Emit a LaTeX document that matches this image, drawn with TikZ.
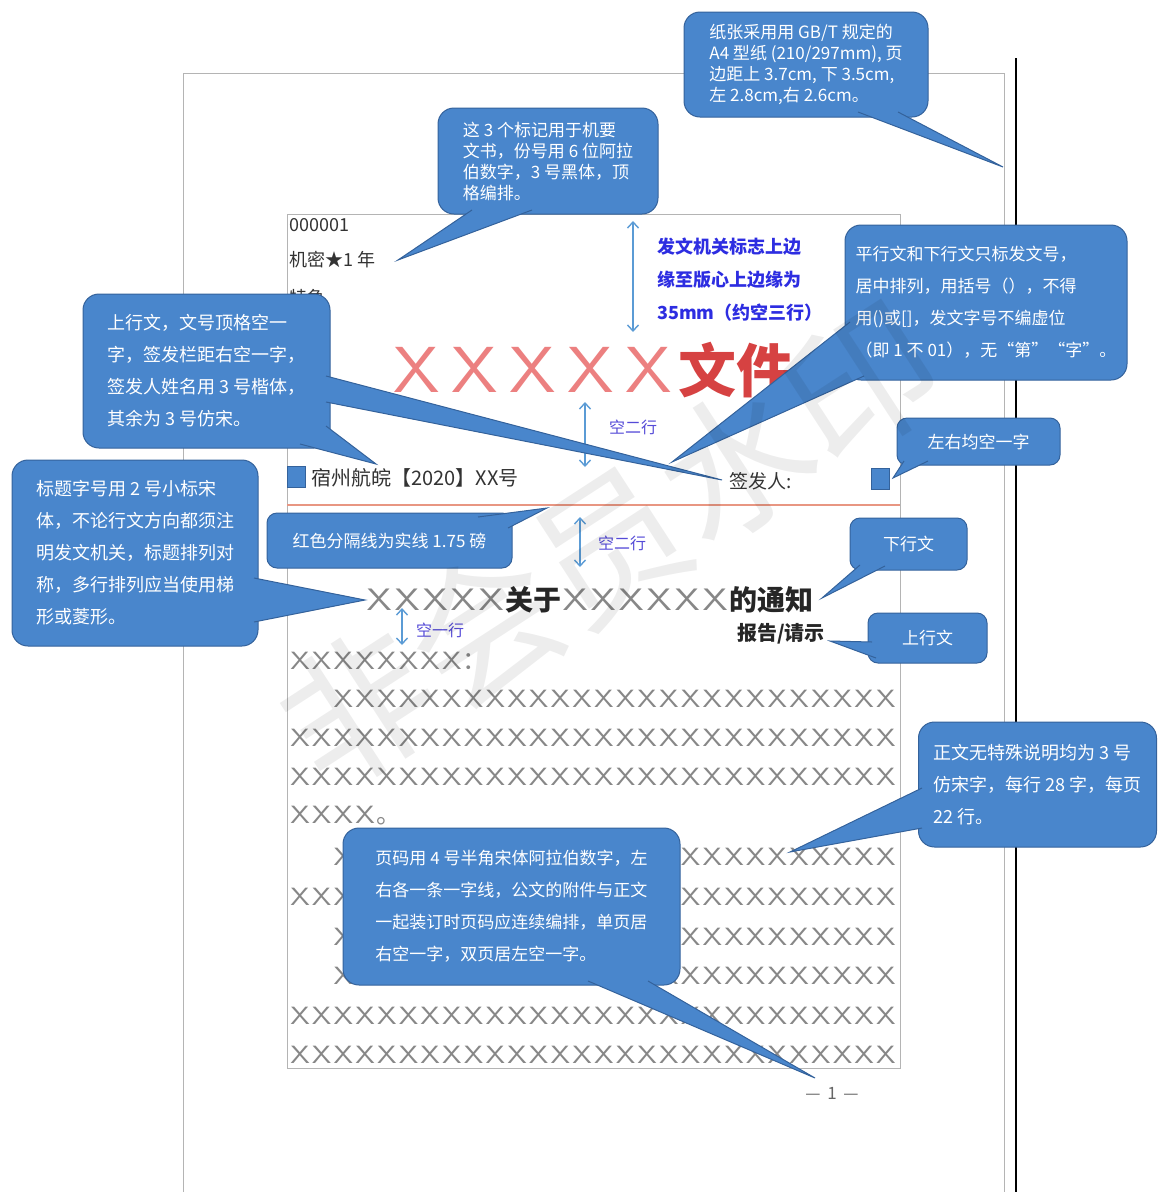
\documentclass[tikz,border=0pt]{standalone}
\usepackage{fontspec}
\usepackage{graphicx}
\newfontfamily\cjk{Noto Sans CJK SC}
\usetikzlibrary{arrows.meta}
\definecolor{bfill}{RGB}{73,134,204}
\definecolor{bline}{RGB}{52,98,155}
\definecolor{ablue}{RGB}{91,155,213}
\definecolor{lblue}{RGB}{85,75,215}
\definecolor{tblue}{RGB}{45,45,225}
\definecolor{xred}{RGB}{236,128,128}
\definecolor{wred}{RGB}{214,66,66}
\definecolor{xgray}{RGB}{135,135,135}
\definecolor{rline}{RGB}{232,150,130}
\definecolor{pgray}{RGB}{180,180,180}
\newcommand\xc{\makebox[21.7pt]{\scalebox{1.25}[1]{X}}}
\newcommand\xt{\makebox[28pt]{\scalebox{1.3}[1]{X}}}
\newcommand\xr{\makebox[58pt]{\scalebox{1.2}[1.05]{X}}}
\ExplSyntaxOn
\NewDocumentCommand\xrow{m}{\prg_replicate:nn{#1}{\xc}}
\NewDocumentCommand\xtrow{m}{\prg_replicate:nn{#1}{\xt}}
\NewDocumentCommand\xrrow{m}{\prg_replicate:nn{#1}{\xr}}
\ExplSyntaxOff
\tikzset{
  bub/.style={rounded corners=16pt, fill=bfill, draw=bline, line width=1pt, text=white, align=left, inner sep=0pt},
  tailfill/.style={fill=bfill},
  tailline/.style={draw=bline, line width=1pt, line join=miter},
  gap/.style={draw=ablue, line width=1.4pt, {Straight Barb[length=6pt,width=11pt]}-{Straight Barb[length=6pt,width=11pt]}},
  gaplabel/.style={text=lblue, inner sep=0pt, anchor=west, font=\cjk\fontsize{16}{16}\selectfont},
  xline/.style={anchor=west, inner sep=0pt, text=xgray, font=\sffamily\fontsize{25}{25}\selectfont},
  doc/.style={anchor=west, inner sep=0pt, text=black!80},
  sq/.style={fill=bfill, draw=bline, line width=0.8pt, minimum width=18pt, minimum height=21pt, inner sep=0pt}
}
\begin{document}
\begin{tikzpicture}[x=1pt,y=-1pt]
\useasboundingbox (0,0) rectangle (1159,1192);
% page
\draw[pgray, line width=0.8pt] (183,1192) -- (183,73) -- (1004,73) -- (1004,1192);
\draw[black, line width=1.6pt] (1016,58) -- (1016,1192);
\draw[pgray, line width=0.8pt] (287,214) rectangle (900,1068);
% header marks
\node[doc, font=\cjk\fontsize{18}{18}\selectfont] (fh) at (289,225) {000001};
\node[doc, font=\cjk\fontsize{18}{18}\selectfont] (mj) at (289,260) {机密★1 年};
\node[doc, font=\cjk\fontsize{18}{18}\selectfont] (tj) at (289,298) {特急};
% gap 35mm
\coordinate (a1t) at (633,221);
\coordinate (a1b) at (633,332);
\draw[gap] (a1t) -- (a1b);
\node[anchor=west, inner sep=0pt, text=tblue, align=left, font=\cjk\bfseries\fontsize{18}{33}\selectfont] (note35) at (657,280) {发文机关标志上边\\缘至版心上边缘为\\35mm（约空三行）};
% red heading
\node[anchor=west, inner sep=0pt, text=xred, font=\sffamily\fontsize{62}{62}\selectfont] (hd) at (388,370) {\xrrow{5}{\cjk\bfseries\color{wred}\fontsize{58}{58}\selectfont 文件}};
% gap 2 lines
\coordinate (a2t) at (585,402);
\coordinate (a2b) at (585,467);
\draw[gap] (a2t) -- (a2b);
\node[gaplabel] (g2a) at (609,427) {空二行};
% doc number line
\node[sq] (sq1) at (296,477) {};
\node[doc, font=\cjk\fontsize{20}{20}\selectfont] (wh) at (311,478) {宿州航皖【2020】XX号};
\node[doc, font=\cjk\fontsize{19}{19}\selectfont] (qf) at (729,481) {签发人:};
\node[sq] (sq2) at (880,479) {};
\coordinate (rl1) at (287,505);
\coordinate (rl2) at (900,505);
\draw[rline, line width=2pt] (rl1) -- (rl2);
% gap 2 lines
\coordinate (a3t) at (580,517);
\coordinate (a3b) at (580,567);
\draw[gap] (a3t) -- (a3b);
\node[gaplabel] (g2b) at (598,543) {空二行};
% title
\node[anchor=west, inner sep=0pt, text=xgray, font=\sffamily\fontsize{31}{31}\selectfont] (ti) at (365,600) {\xtrow{5}{\cjk\bfseries\color{black!85}\fontsize{28}{28}\selectfont 关于}\xtrow{6}{\cjk\bfseries\color{black!85}\fontsize{28}{28}\selectfont 的通知}};
\coordinate (a4t) at (402,608);
\coordinate (a4b) at (402,645);
\draw[gap] (a4t) -- (a4b);
\node[gaplabel] (g1) at (416,630) {空一行};
\node[doc, text=black!85, font=\cjk\bfseries\fontsize{20}{20}\selectfont] (bg) at (737,634) {报告/请示};
% body
\node[xline] (r1) at (289,661) {\xrow{8}{\cjk ：}};
\node[xline] (r2) at (332.4,699) {\xrow{26}};
\node[xline] (r3) at (289,738) {\xrow{28}};
\node[xline] (r4) at (289,777) {\xrow{28}};
\node[xline] (r5) at (289,816) {\xrow{4}{\cjk 。}};
\node[xline] (r6) at (332.4,857) {\xrow{26}};
\node[xline] (r7) at (289,897) {\xrow{28}};
\node[xline] (r8) at (332.4,937) {\xrow{26}};
\node[xline] (r9) at (332.4,976) {\xrow{26}};
\node[xline] (r10) at (289,1016) {\xrow{28}};
\node[xline] (r11) at (289,1055) {\xrow{28}};
\node[text=black!60, inner sep=0pt, font=\cjk\fontsize{17}{17}\selectfont] (pn) at (832,1093) {— \,1\, —};
% ---------- callouts ----------
% B1
\node[bub, minimum width=244pt, minimum height=105pt, font=\cjk\fontsize{17}{21}\selectfont] (b1) at (806,64.5)
 {纸张采用用 GB/T 规定的\\A4 型纸 (210/297mm), 页\\边距上 3.7cm, 下 3.5cm,\\左 2.8cm,右 2.6cm。};
\coordinate (t1) at (1003,167);
\fill[tailfill] (858,112) -- (t1) -- (898,112) -- cycle;
\draw[tailline] (858,112) -- (t1) -- (898,112);
% B2
\node[bub, minimum width=220pt, minimum height=106pt, font=\cjk\fontsize{17}{21}\selectfont] (b2) at (548,161)
 {这 3 个标记用于机要\\文书，份号用 6 位阿拉\\伯数字，3 号黑体，顶\\格编排。};
\coordinate (t2) at (398,260);
\fill[tailfill] (472,210) -- (t2) -- (532,210) -- cycle;
\draw[tailline] (472,210) -- (t2) -- (532,210);
% B3
\node[bub, minimum width=282pt, minimum height=155pt, font=\cjk\fontsize{17}{32}\selectfont] (b3) at (986,302.5)
 {平行文和下行文只标发文号，\\居中排列，用括号（），不得\\用()或[]，发文字号不编虚位\\（即 1 不 01），无“第”“字”。};
\coordinate (t3) at (672,462);
\fill[tailfill] (850,322) -- (t3) -- (864,376) -- cycle;
\draw[tailline] (850,322) -- (t3) -- (864,376);
% B4
\node[bub, minimum width=247pt, minimum height=154pt, font=\cjk\fontsize{18}{32}\selectfont] (b4) at (206.5,371)
 {上行文，文号顶格空一\\字，签发栏距右空一字，\\签发人姓名用 3 号楷体，\\其余为 3 号仿宋。};
\coordinate (t4a) at (722,480);
\coordinate (t4b) at (376,464);
\fill[tailfill] (326,376) -- (t4a) -- (326,402) -- cycle;
\draw[tailline] (326,376) -- (t4a) -- (326,402);
\fill[tailfill] (300,444) -- (t4b) -- (326,426) -- cycle;
\draw[tailline] (300,444) -- (t4b) -- (326,426);
% B5
\node[bub, minimum width=246pt, minimum height=186pt, font=\cjk\fontsize{18}{32}\selectfont] (b5) at (135,553)
 {标题字号用 2 号小标宋\\体，不论行文方向都须注\\明发文机关，标题排列对\\称，多行排列应当使用梯\\形或菱形。};
\coordinate (t5) at (365,600);
\fill[tailfill] (254,578) -- (t5) -- (254,622) -- cycle;
\draw[tailline] (254,578) -- (t5) -- (254,622);
% B6
\node[bub, rounded corners=10pt, minimum width=163pt, minimum height=47pt, font=\cjk\fontsize{17}{17}\selectfont] (b6) at (978.5,441.5) {左右均空一字};
\coordinate (t6) at (893,478);
\fill[tailfill] (904,461) -- (t6) -- (928,461) -- cycle;
\draw[tailline] (904,461) -- (t6) -- (928,461);
% B7
\node[bub, rounded corners=10pt, minimum width=245pt, minimum height=55pt, font=\cjk\fontsize{17}{17}\selectfont] (b7) at (389.5,540.5) {红色分隔线为实线 1.75 磅};
\coordinate (t7) at (547,508);
\fill[tailfill] (478,517) -- (t7) -- (508,528) -- cycle;
\draw[tailline] (478,517) -- (t7) -- (508,528);
% B8
\node[bub, rounded corners=10pt, minimum width=117pt, minimum height=52pt, font=\cjk\fontsize{17}{17}\selectfont] (b8) at (908.5,544) {下行文};
\coordinate (t8) at (822,598);
\fill[tailfill] (860,565) -- (t8) -- (885,566) -- cycle;
\draw[tailline] (860,565) -- (t8) -- (885,566);
% B9
\node[bub, rounded corners=10pt, minimum width=119pt, minimum height=50pt, font=\cjk\fontsize{17}{17}\selectfont] (b9) at (927.5,638) {上行文};
\coordinate (t9) at (830,641);
\fill[tailfill] (872,642) -- (t9) -- (876,658) -- cycle;
\draw[tailline] (872,642) -- (t9) -- (876,658);
% B10
\node[bub, minimum width=337pt, minimum height=157pt, font=\cjk\fontsize{17}{32}\selectfont] (b10) at (511.5,906.5)
 {页码用 4 号半角宋体阿拉伯数字，左\\右各一条一字线，公文的附件与正文\\一起装订时页码应连续编排，单页居\\右空一字，双页居左空一字。};
\coordinate (t10) at (815,1078);
\fill[tailfill] (588,981) -- (t10) -- (648,981) -- cycle;
\draw[tailline] (588,981) -- (t10) -- (648,981);
% B11
\node[bub, minimum width=238pt, minimum height=125pt, font=\cjk\fontsize{18}{32}\selectfont] (b11) at (1037.5,784.5)
 {正文无特殊说明均为 3 号\\仿宋字，每行 28 字，每页\\22 行。};
\coordinate (t11) at (790,852);
\fill[tailfill] (922,788) -- (t11) -- (922,828) -- cycle;
\draw[tailline] (922,788) -- (t11) -- (922,828);
% watermark
\node[rotate=33, opacity=0.07, inner sep=0pt, font=\cjk\fontsize{150}{150}\selectfont] (wm) at (610,545) {非会员水印};
\end{tikzpicture}
\end{document}
